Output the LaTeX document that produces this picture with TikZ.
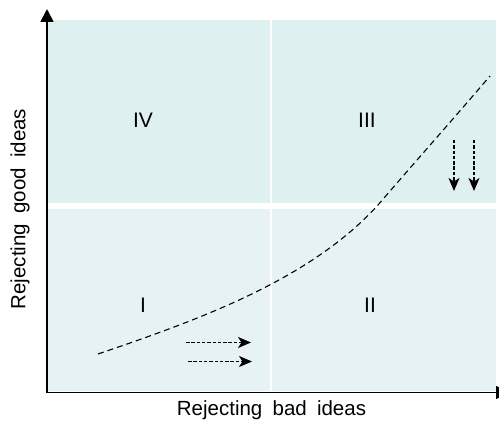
\documentclass[tikz,border=0pt]{standalone}
\usepackage{fontspec}
\setmainfont{Liberation Sans}
\usetikzlibrary{arrows.meta}
\definecolor{topfill}{RGB}{223,240,240}
\definecolor{botfill}{RGB}{230,242,243}
\tikzset{
  axisline/.style={line width=1.8pt,-{Triangle[length=13pt,width=13pt]}},
  quadlabel/.style={font=\fontsize{21}{21}\selectfont,inner sep=0pt},
  axislabel/.style={font=\fontsize{20.5}{20.5}\selectfont,inner sep=0pt},
  trendcurve/.style={line width=1.1pt,dash pattern=on 6pt off 4pt},
  movearrow/.style={line width=1.5pt,dash pattern=on 3.5pt off 1.8pt,-{Stealth[length=13pt,width=11pt,inset=3.5pt]}}
}
\begin{document}
\begin{tikzpicture}[x=1pt,y=-1pt]
\useasboundingbox (0,0) rectangle (499,422);
% quadrant fills
\fill[topfill] (48,20) rectangle (496,206);
\fill[botfill] (48,206) rectangle (496,391);
\fill[white] (48,203.3) rectangle (496,209);
\fill[white] (270,20) rectangle (272,391);
% axes
\coordinate (origin) at (47,392.5);
\coordinate (ytip) at (47,9);
\coordinate (xtip) at (509,392.5);
\draw[axisline] (origin) -- (ytip);
\draw[axisline] ([xshift=-0.9pt]origin) -- (xtip);
% quadrant labels
\node[quadlabel] (q4) at (143,120) {IV};
\node[quadlabel] (q3) at (367,120) {III};
\node[quadlabel] (q1) at (143,305) {I};
\node[quadlabel] (q2) at (370,305) {II};
% axis labels
\node[axislabel] (xl) at (271.5,410) {Rejecting\hspace{0.5em}bad\hspace{0.5em}ideas};
\node[axislabel,rotate=90] (yl) at (20,209) {Rejecting\hspace{0.5em}good\hspace{0.5em}ideas};
% dashed curve
\coordinate (cs) at (98,354);
\coordinate (cm) at (378,205);
\coordinate (ce) at (490,76);
\draw[trendcurve] (cs) .. controls (198,320) and (310,280) .. (cm)
  .. controls (415,162) and (455,117) .. (ce);
% movement arrows
\coordinate (h1s) at (186,342.5);
\coordinate (h1e) at (251,342.5);
\coordinate (h2s) at (188,361.5);
\coordinate (h2e) at (252,361.5);
\draw[movearrow] (h1s) -- (h1e);
\draw[movearrow] (h2s) -- (h2e);
\coordinate (v1s) at (454,140);
\coordinate (v1e) at (454,191);
\coordinate (v2s) at (474,140);
\coordinate (v2e) at (474,191);
\draw[movearrow] (v1s) -- (v1e);
\draw[movearrow] (v2s) -- (v2e);
\end{tikzpicture}
\end{document}
